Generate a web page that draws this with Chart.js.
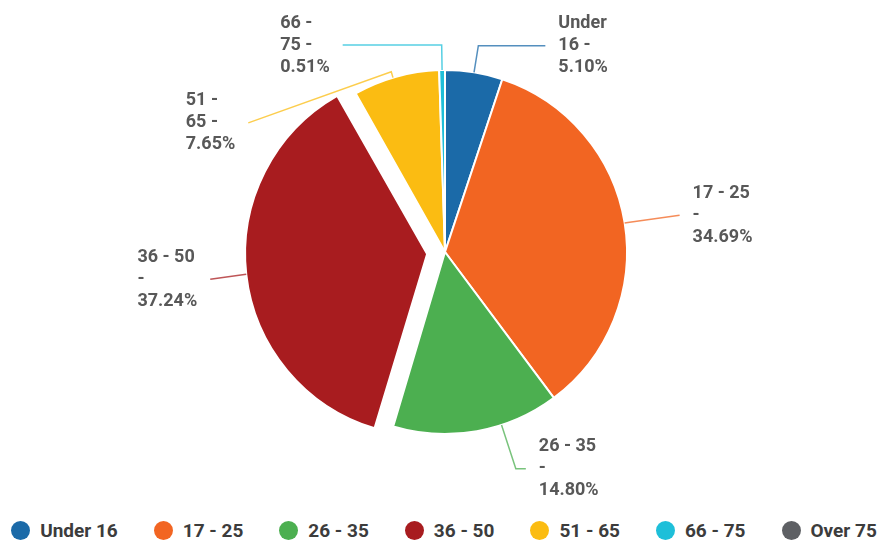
<!DOCTYPE html>
<html>
<head>
<meta charset="utf-8">
<script src="https://cdn.jsdelivr.net/npm/chart.js@4.4.1/dist/chart.umd.min.js"></script>
<style>
  body { margin: 0; background: #fff; }
  .container { position: relative; width: 880px; height: 542px; }
  .graph-container { position: absolute; left: 0; top: 0; width: 880px; height: 505px; }
  .legend {
    position: absolute; left: 4px; top: 519px; width: 880px;
    display: flex; justify-content: center; gap: 36px;
    font: bold 19px Roboto, sans-serif; color: #3c3c3c;
  }
  .legend span { display: flex; align-items: center; white-space: nowrap; }
  .legend i { display: inline-block; width: 19px; height: 19px; border-radius: 50%; margin-right: 10px; }
</style>
</head>
<body>
<div class="container">
  <div class="graph-container"><canvas id="ageChart"></canvas></div>
  <div class="legend" id="legend"></div>
</div>
<script>
// Age groups and their share of the total (%)
const ageGroups = ['Under 16', '17 - 25', '26 - 35', '36 - 50', '51 - 65', '66 - 75', 'Over 75'];
const shares = [5.10, 34.69, 14.80, 37.24, 7.65, 0.51, 0];

const sliceColors = ['#1b6aa8', '#f26522', '#4caf50', '#a81c1f', '#fbbc12', '#1ebfd9', '#5e6064'];

// where each outside label goes: angle nudge (deg), radial elbow, then the leader end relative to the elbow
const labelPlacement = [
  { nudge: 0, elbow: 27, dx: 67, dy: 0, wrap: 56 },
  { nudge: 0, elbow: 5, dx: 50, dy: -7, wrap: 66 },
  { nudge: -8, elbow: 46, dx: 10, dy: 0, wrap: 66 },
  { nudge: 0, elbow: 0, dx: -36, dy: 5, wrap: 66 },
  { nudge: -1, elbow: 6, dx: -143, dy: 51, wrap: 56 },
  { nudge: 0, elbow: 25, dx: -99, dy: 0, wrap: 56 },
  null,
];

function wrapText(ctx, text, maxWidth) {
  const words = text.split(' ');
  const lines = [];
  let line = words[0];
  for (let i = 1; i < words.length; i++) {
    const test = line + ' ' + words[i];
    if (ctx.measureText(test).width > maxWidth) {
      lines.push(line);
      line = words[i];
    } else {
      line = test;
    }
  }
  lines.push(line);
  return lines;
}

// exploded slices are moved by offset / 4 and grow a little; keep their radius equal to the rest
function explodeShift(arc) {
  const shift = (arc.options.offset || 0) / 4;
  const grow = shift * (1 - Math.sin(Math.min(Math.PI, arc.circumference)));
  return { shift, grow };
}

const explodedRadius = {
  id: 'explodedRadius',
  afterUpdate(chart) {
    chart.getDatasetMeta(0).data.forEach(arc => {
      arc.outerRadius -= explodeShift(arc).grow;
    });
  }
};

const outsideLabels = {
  id: 'outsideLabels',
  afterDatasetsDraw(chart) {
    const ctx = chart.ctx;
    const meta = chart.getDatasetMeta(0);
    ctx.save();
    ctx.font = 'bold 18px Roboto';
    ctx.textBaseline = 'middle';
    ctx.textAlign = 'left';
    meta.data.forEach((arc, i) => {
      const place = labelPlacement[i];
      if (!place || !shares[i]) return;
      const { x, y, startAngle, endAngle, outerRadius } =
        arc.getProps(['x', 'y', 'startAngle', 'endAngle', 'outerRadius'], true);
      const mid = (startAngle + endAngle) / 2;
      const { shift, grow } = explodeShift(arc);
      const cx = x + Math.cos(mid) * shift;
      const cy = y + Math.sin(mid) * shift;
      const r = outerRadius + grow;
      const a = mid + place.nudge * Math.PI / 180;

      const p1x = cx + Math.cos(a) * r, p1y = cy + Math.sin(a) * r;
      const p2x = cx + Math.cos(a) * (r + place.elbow), p2y = cy + Math.sin(a) * (r + place.elbow);
      const p3x = p2x + place.dx, p3y = p2y + place.dy;

      ctx.strokeStyle = sliceColors[i];
      ctx.globalAlpha = 0.75;
      ctx.lineWidth = 1.5;
      ctx.beginPath();
      ctx.moveTo(p1x, p1y);
      ctx.lineTo(p2x, p2y);
      ctx.lineTo(p3x, p3y);
      ctx.stroke();
      ctx.globalAlpha = 1;

      const lines = wrapText(ctx, ageGroups[i] + ' - ' + shares[i].toFixed(2) + '%', place.wrap);
      const blockWidth = Math.max(...lines.map(l => ctx.measureText(l).width));
      const right = place.dx >= 0;
      const left = right ? p3x + 13 : p3x - 13 - blockWidth;
      const top = p3y - (lines.length - 1) * 11;
      ctx.fillStyle = '#585858';
      lines.forEach((l, k) => ctx.fillText(l, left, top + k * 22));
    });
    ctx.restore();
  }
};

const ctx = document.getElementById('ageChart').getContext('2d');
new Chart(ctx, {
  type: 'pie',
  data: {
    labels: ageGroups,
    datasets: [{
      data: shares,
      backgroundColor: sliceColors,
      borderColor: '#ffffff',
      borderWidth: 2,
      offset: [0, 0, 0, 72, 0, 0, 0],
      hoverOffset: 0,
    }],
  },
  options: {
    responsive: true,
    maintainAspectRatio: false,
    animation: false,
    layout: { padding: { left: 10, top: 33, bottom: 34 } },
    plugins: {
      legend: { display: false },
      tooltip: { enabled: false },
    },
  },
  plugins: [explodedRadius, outsideLabels],
});

// legend row under the chart
const legend = document.getElementById('legend');
ageGroups.forEach((g, i) => {
  const item = document.createElement('span');
  item.innerHTML = '<i style="background:' + sliceColors[i] + '"></i>' + g;
  legend.appendChild(item);
});
</script>
</body>
</html>
